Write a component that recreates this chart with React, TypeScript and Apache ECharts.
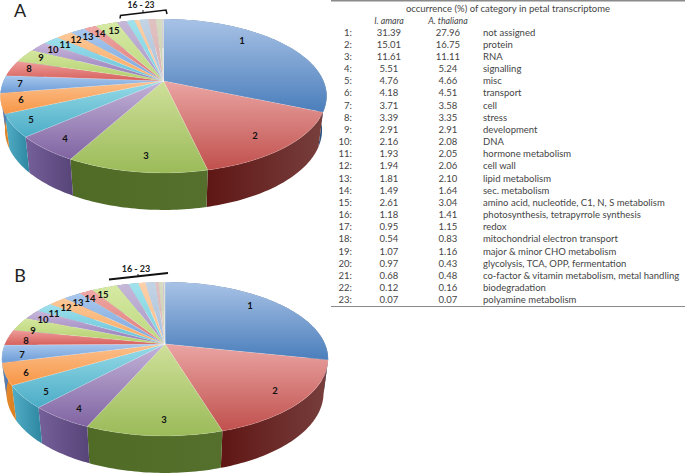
import React, { useEffect, useRef } from "react";
import * as echarts from "echarts";

const categoryIds = ["1:","2:","3:","4:","5:","6:","7:","8:","9:","10:","11:","12:","13:","14:","15:","16:","17:","18:","19:","20:","21:","22:","23:"];
const amaraValues = [31.39,15.01,11.61,5.51,4.76,4.18,3.71,3.39,2.91,2.16,1.93,1.94,1.81,1.49,2.61,1.18,0.95,0.54,1.07,0.97,0.68,0.12,0.07];
const thalianaValues = [27.96,16.75,11.11,5.24,4.66,4.51,3.58,3.35,2.91,2.08,2.05,2.06,2.10,1.64,3.04,1.41,1.15,0.83,1.16,0.43,0.48,0.16,0.07];
const categoryNames = ["not assigned","protein","RNA","signalling","misc","transport","cell","stress","development","DNA","hormone metabolism","cell wall","lipid metabolism","sec. metabolism","amino acid, nucleotide, C1, N, S metabolism","photosynthesis, tetrapyrrole synthesis","redox","mitochondrial electron transport","major & minor CHO metabolism","glycolysis, TCA, OPP, fermentation","co-factor & vitamin metabolism, metal handling","biodegradation","polyamine metabolism"];

const topLight = ["#a8c2e6","#eaa5a3","#cfe09a","#c3b3d8","#97dbe8","#fbc08d","#a9c8ee","#ee9d9b","#d5e7a0","#c7b6dc","#9fe0ec","#fcc898","#a9c8ee","#efa8a6","#d6e9a3","#c6b8d8","#a0e2ec","#fcd0a8","#c3d4e4","#e0c2c2","#d6dcc0","#d3c8dc","#e6efc8"];
const topDark = ["#4a7ebb","#c0504d","#9bbb59","#8064a2","#4bacc6","#f79646","#6b9bd6","#d6605c","#b0cf6a","#9077b3","#5fc0d8","#f8a860","#7aa6dd","#de7a76","#bcd77e","#a896c6","#78cfe0","#f9bd8a","#a8bfdc","#ddaeb0","#ccd0b0","#c8b8d4","#dde8b0"];
const sideLeft = ["#35608f","#5f1614","#4f6b25","#75609a","#52aec6","#e88a32","#5a86bd","#b04a48","#8fa850","#75609a","#4ba0b8","#e08a40","#5a86bd","#b04a48","#8fa850","#75609a","#4ba0b8","#e08a40","#8aa0b8","#b08a8a","#a0a488","#a090a8","#b0b888"];
const sideRight = ["#2c517c","#773f3d","#54702c","#574477","#2e86a0","#d9801f","#4a76ad","#a04040","#7f9840","#655088","#3b90a8","#d07a30","#4a76ad","#a04040","#7f9840","#655088","#3b90a8","#d07a30","#7a90a8","#a07a7a","#909478","#908098","#a0a878"];

const labelNames = ["1","2","3","4","5","6","7","8","9","10","11","12","13","14","15"];
const labelPosA = [[242,40],[255,135],[146,155],[65,138],[31,119],[21,99],[20,83],[29,68],[41,57],[53,49],[65,44],[76,39],[88,36],[100,33],[114,30]];
const labelPosB = [[250,305],[275,390],[164,419],[79,408],[46,391],[26,372],[22,354],[26,340],[33,330],[43,319],[54,313],[66,307],[78,302],[90,298],[103,294]];

const FONT = "Lato, Carlito, sans-serif";
const K = 0.195, RX = 160, RY = 74;

function project(theta: number) {
  const x = Math.sin(theta), y = -Math.cos(theta);
  const d = 1 - K * y;
  return { x: RX * x / d, y: RY * y / d, u: y };
}

function rimPoint(theta: number, cx: number, cy: number, lower: boolean) {
  const p = project(theta);
  if (!lower) return [cx + p.x, cy + p.y];
  return [cx + p.x * 0.972, cy + p.y + 33 + 4 * p.u];
}

function arcPoints(a0: number, a1: number, cx: number, cy: number, lower: boolean) {
  const n = Math.max(3, Math.ceil((a1 - a0) / 0.02));
  const pts = [];
  for (let i = 0; i <= n; i++) pts.push(rimPoint(a0 + (a1 - a0) * i / n, cx, cy, lower));
  return pts;
}

function seriesData(values: number[]) {
  const total = values.reduce((s, v) => s + v, 0);
  let acc = 0;
  return values.map((v) => {
    const start = acc / total;
    acc += v;
    return [start * Math.PI * 2, acc / total * Math.PI * 2];
  });
}

function pieSeries(values: number[], cx: number, cy: number) {
  const data = seriesData(values);
  const side = {
    type: "custom", coordinateSystem: "none", silent: true, z: 1, data,
    renderItem: (params: any, api: any) => {
      const i = params.dataIndex;
      const a0 = api.value(0), a1 = api.value(1);
      const top = arcPoints(a0, a1, cx, cy, false);
      const bottom = arcPoints(a0, a1, cx, cy, true).reverse();
      return {
        type: "polygon",
        shape: { points: top.concat(bottom) },
        style: {
          fill: new echarts.graphic.LinearGradient(0, 0, 1, 0, [
            { offset: 0, color: sideLeft[i] }, { offset: 1, color: sideRight[i] },
          ]),
          stroke: "none",
        },
      };
    },
  };
  const top = {
    type: "custom", coordinateSystem: "none", silent: true, z: 2, data,
    renderItem: (params: any, api: any) => {
      const i = params.dataIndex;
      const a0 = api.value(0), a1 = api.value(1);
      const rim = arcPoints(a0, a1, cx, cy, false);
      return {
        type: "polygon",
        shape: { points: [[cx, cy]].concat(rim) },
        style: {
          fill: new echarts.graphic.LinearGradient(0, 0, 0, 1, [
            { offset: 0, color: topLight[i] }, { offset: 1, color: topDark[i] },
          ]),
          stroke: "rgba(255,255,255,0.35)",
          lineWidth: 0.4,
        },
      };
    },
  };
  return [side, top];
}

function txt(text: string, x: number, y: number, align: string, size: number, color: string, extra: any = {}) {
  return {
    type: "text", z: 10, silent: true,
    style: { text, x, y, textAlign: align, textVerticalAlign: "middle", fontFamily: FONT, fontSize: size, fill: color, ...extra },
  };
}

function line(points: number[][], width: number, color: string) {
  return { type: "polyline", z: 9, silent: true, shape: { points }, style: { stroke: color, lineWidth: width, fill: "none" } };
}

function buildGraphics() {
  const g: any[] = [];
  g.push(txt("A", 20, 10, "center", 18, "#222"));
  g.push(txt("B", 20, 275, "center", 18, "#222"));
  labelNames.forEach((n, i) => {
    g.push(txt(n, labelPosA[i][0], labelPosA[i][1], "center", 9.5, "#111", { fontWeight: "bold" }));
    g.push(txt(n, labelPosB[i][0], labelPosB[i][1], "center", 9.5, "#111", { fontWeight: "bold" }));
  });
  g.push(txt("16 - 23", 141, 5, "center", 8.5, "#222", { fontWeight: "bold" }));
  g.push(txt("16 - 23", 136, 268, "center", 9, "#222", { fontWeight: "bold" }));
  g.push(line([[120,18.5],[120.5,15.5],[166,10],[167,14]], 1.5, "#111"));
  g.push(line([[143,12.5],[143,10]], 1, "#111"));
  g.push(line([[109,279.5],[168,273]], 2, "#111"));
  g.push(line([[138,276],[138,274]], 1, "#111"));

  g.push(line([[331,0.7],[685,0.7]], 1.4, "#8a8a8a"));
  g.push(line([[331,306.5],[685,306.5]], 1.2, "#8a8a8a"));
  const c = "#454545";
  g.push(txt("occurrence (%) of category in petal transcriptome", 508, 8, "center", 9.5, c));
  g.push(txt("I. amara", 389, 20, "center", 8.8, c, { fontStyle: "italic" }));
  g.push(txt("A. thaliana", 448, 20, "center", 8.8, c, { fontStyle: "italic" }));
  categoryIds.forEach((id, i) => {
    const y = 32 + i * 12.17;
    g.push(txt(id, 352, y, "right", 9.5, c));
    g.push(txt(amaraValues[i].toFixed(2), 389, y, "center", 9.5, c));
    g.push(txt(thalianaValues[i].toFixed(2), 448, y, "center", 9.5, c));
    g.push(txt(categoryNames[i], 483, y, "left", 9.5, c));
  });
  return g;
}

export default function App() {
  const ref = useRef<HTMLDivElement>(null);
  useEffect(() => {
    document.body.style.margin = "0";
    const chart = echarts.init(ref.current!, null, { renderer: "svg" });
    chart.setOption({
      animation: false,
      backgroundColor: "#ffffff",
      series: [...pieSeries(amaraValues, 163.5, 81), ...pieSeries(thalianaValues, 165, 344)],
      graphic: buildGraphics(),
    });
    return () => chart.dispose();
  }, []);
  return <div ref={ref} style={{ width: 685, height: 473 }} />;
}
